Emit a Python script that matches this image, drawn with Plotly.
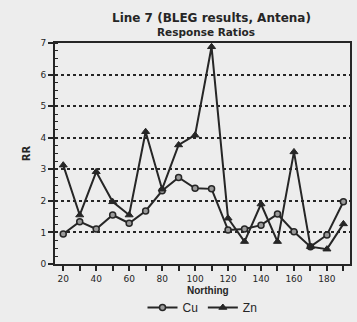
import plotly.graph_objects as go

northing = [20, 30, 40, 50, 60, 70, 80, 90, 100, 110, 120, 130, 140, 150, 160, 170, 180, 190]
cu = [0.95, 1.34, 1.11, 1.55, 1.29, 1.68, 2.32, 2.74, 2.40, 2.38, 1.08, 1.11, 1.23, 1.58, 1.02, 0.55, 0.92, 1.97]
zn = [3.13, 1.55, 2.92, 1.97, 1.55, 4.19, 2.37, 3.77, 4.08, 6.88, 1.45, 0.71, 1.90, 0.71, 3.55, 0.55, 0.47, 1.27]
x_ticks = [20, 40, 60, 80, 100, 120, 140, 160, 180]
y_ticks = [0, 1, 2, 3, 4, 5, 6, 7]

FONT = "Liberation Sans"
WIDE = "DejaVu Sans"
INK = "#262626"

fig = go.Figure()
fig.add_trace(go.Scatter(
    x=northing, y=cu, name="Cu", mode="lines+markers",
    line=dict(color=INK, width=2),
    marker=dict(symbol="circle", size=6, color="#9a9a9a", line=dict(color=INK, width=1.5)),
    cliponaxis=False,
))
fig.add_trace(go.Scatter(
    x=northing, y=zn, name="Zn", mode="lines+markers",
    line=dict(color=INK, width=2),
    marker=dict(symbol="triangle-up", size=7, color=INK, line=dict(color=INK, width=1)),
    cliponaxis=False,
))

fig.update_layout(
    width=357, height=322,
    margin=dict(l=55, r=7, t=43, b=58),
    paper_bgcolor="#ededed", plot_bgcolor="#ededed",
    font=dict(family=FONT, color=INK, size=10),
    showlegend=True,
    legend=dict(orientation="h", x=0.5, xanchor="center", yref="container", y=0.045, yanchor="middle",
                font=dict(family=FONT, size=12, color=INK), itemwidth=30,
                bgcolor="rgba(0,0,0,0)", tracegroupgap=0),
    annotations=[
        dict(text="<b>Line 7 (BLEG results, Antena)</b>", xref="paper", yref="paper",
             x=0.529, y=1 + (43 - 18.5) / 221, xanchor="center", yanchor="middle", showarrow=False,
             font=dict(family=WIDE, size=12, color=INK)),
        dict(text="<b>Response Ratios</b>", xref="paper", yref="paper",
             x=0.512, y=1 + (43 - 32.5) / 221, xanchor="center", yanchor="middle", showarrow=False,
             font=dict(family=WIDE, size=10.5, color=INK)),
        dict(text="<b>Northing</b>", xref="paper", yref="paper",
             x=0.518, y=-(290 - 264) / 221, xanchor="center", yanchor="middle", showarrow=False,
             font=dict(family=FONT, size=10, color=INK)),
    ],
    xaxis=dict(
        range=[15, 194], tickvals=x_ticks, ticktext=[str(v) for v in x_ticks],
        ticks="outside", ticklen=5, tickwidth=1.5, tickcolor=INK,
        minor=dict(dtick=10, tick0=0, ticks="outside", ticklen=5, tickwidth=1.5, tickcolor=INK),
        showline=True, linewidth=2, linecolor=INK, mirror=True,
        showgrid=False, zeroline=False, automargin=False,
        tickfont=dict(family=WIDE, size=9, color=INK),
    ),
    yaxis=dict(
        range=[0, 7], tickvals=y_ticks,
        ticks="outside", ticklen=5, tickwidth=1.5, tickcolor=INK,
        minor=dict(dtick=0.25, ticks="inside", ticklen=3, tickwidth=1, tickcolor=INK),
        showline=True, linewidth=2, linecolor=INK, mirror=True,
        showgrid=True, gridcolor=INK, griddash="dot", gridwidth=1.5,
        zeroline=False, automargin=False,
        tickfont=dict(family=WIDE, size=9, color=INK),
        title=dict(text="<b>RR</b>", font=dict(family=WIDE, size=10, color=INK), standoff=8),
    ),
)
fig.update_yaxes(tickprefix="<b>", ticksuffix="</b>")
fig.update_xaxes(tickprefix="<b>", ticksuffix="</b>")

fig.write_html("out.html", config={"displayModeBar": False},
               post_script="document.body.style.margin='0';")
